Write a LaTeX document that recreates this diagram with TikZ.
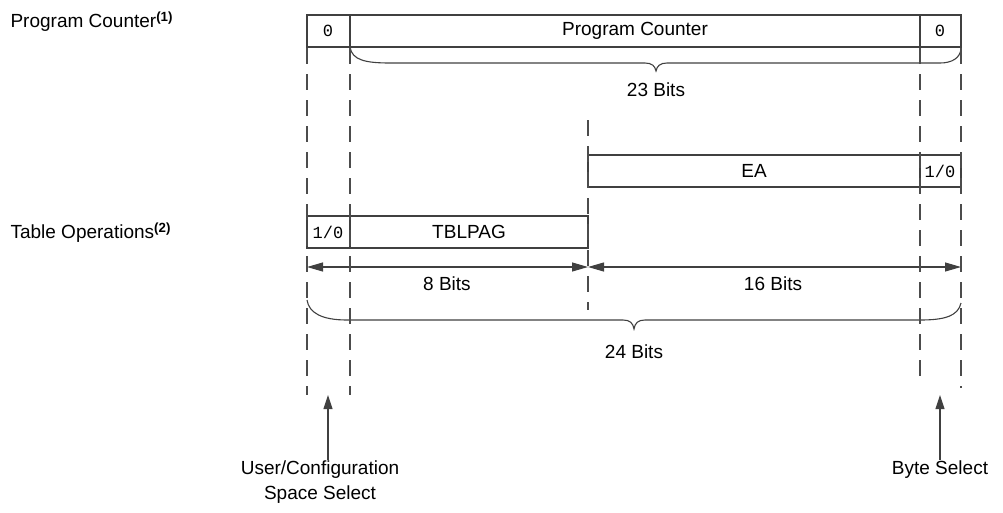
\documentclass[tikz,border=0pt]{standalone}
\usepackage{fontspec}
\setmainfont{Liberation Sans}
\newfontfamily\monof{Liberation Mono}
\usetikzlibrary{arrows.meta}
\begin{document}
\begin{tikzpicture}[x=1pt,y=-1pt,line width=1.1pt,draw=black!75,
  txt/.style={font=\fontsize{19}{23}\selectfont,inner sep=0pt},
  mono/.style={font=\monof\fontsize{17}{20}\selectfont,inner sep=0pt},
  dsh/.style={draw=black!70,line width=1.1pt,dash pattern=on 16pt off 10pt},
  dim/.style={{Triangle[length=16pt,width=9pt]}-{Triangle[length=16pt,width=9pt]}},
  up/.style={-{Triangle[length=14pt,width=9pt]}}]
\useasboundingbox (0,0) rectangle (1003,512);
% left labels
\node[txt,anchor=west] (lpc) at (10,22) {Program Counter\textsuperscript{\textbf{(1)}}};
\node[txt,anchor=west] (lto) at (10,233) {Table Operations\textsuperscript{\textbf{(2)}}};
% PC box
\draw (307,15) rectangle (961,47);
\draw (350,15) -- (350,47) (920,15) -- (920,47);
\node[mono] (pc0) at (328,31) {0};
\node[txt] (pcl) at (635,31) {Program Counter};
\node[mono] (pc1) at (940,31) {0};
% brace 23
\draw (350,47) .. controls (352,60) and (365,63) .. (390,63) -- (645,63)
  .. controls (652,63) and (655,66) .. (656,71)
  .. controls (657,66) and (660,63) .. (667,63) -- (940,63)
  .. controls (952,63) and (960,58) .. (961,49);
\node[txt] (b23) at (656,90) {23 Bits};
% EA box
\draw (588,155) rectangle (961,187);
\draw (920,155) -- (920,187);
\node[txt] (ea) at (754,171) {EA};
\node[mono] (ea1) at (940,171) {1/0};
% TBLPAG box
\draw (307,216) rectangle (588,248);
\draw (350,216) -- (350,248);
\node[mono] (tb1) at (328,232) {1/0};
\node[txt] (tb) at (469,232) {TBLPAG};
% dimension arrows
\coordinate (a1) at (307,267); \coordinate (a2) at (588,267); \coordinate (a3) at (961,267);
\draw[dim] (a1) -- (a2);
\draw[dim] (a2) -- (a3);
\node[txt] (b8) at (447,284) {8 Bits};
\node[txt] (b16) at (773,284) {16 Bits};
% brace 24
\draw (307,300) .. controls (309,313) and (322,320) .. (347,320) -- (623,320)
  .. controls (630,320) and (633,323) .. (634,329)
  .. controls (635,323) and (638,320) .. (645,320) -- (920,320)
  .. controls (945,320) and (958,316) .. (961,303);
\node[txt] (b24) at (634,352) {24 Bits};
% dashed guides
\draw[dsh] (307,48) -- (307,395);
\draw[dsh] (350,48) -- (350,395);
\draw[dsh] (588,120) -- (588,310);
\draw[dsh] (920,48) -- (920,385);
\draw[dsh] (961,48) -- (961,388);
% bottom labels and arrows
\node[txt,align=center,anchor=north] (us) at (320,460) {User/Configuration\\[2pt]Space Select};
\node[txt,anchor=north] (bs) at (940,460) {Byte Select};
\coordinate (ut) at (328,395); \coordinate (bt) at (940,395);
\draw[up] (us.north -| ut) -- (ut);
\draw[up] (bs.north -| bt) -- (bt);
\end{tikzpicture}
\end{document}
